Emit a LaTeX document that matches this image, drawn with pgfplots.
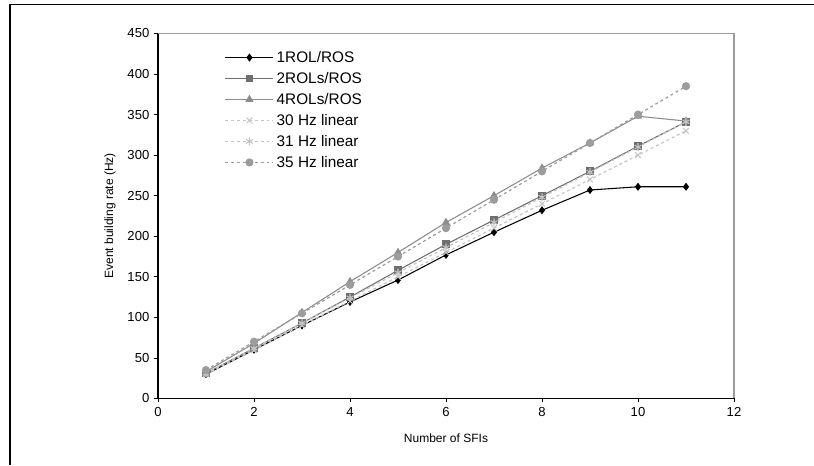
\documentclass[border=0pt]{standalone}
\usepackage{pgfplots}
\pgfplotsset{compat=1.18}
\usepackage{fontspec}
\setmainfont{Liberation Sans}
\definecolor{c2}{HTML}{6E6E6E}
\definecolor{c4}{HTML}{8C8C8C}
\definecolor{c30}{HTML}{C4C4C4}
\definecolor{c35}{HTML}{9C9C9C}
\begin{document}
\begin{tikzpicture}[x=1pt,y=1pt]
\path[use as bounding box] (0,0) rectangle (610.5,348.75);
\draw[line width=1.3pt] (7.5,0) -- (7.5,345.4) -- (610.5,345.4);
\begin{axis}[
  at={(118.5pt,49.9pt)}, anchor=south west,
  scale only axis, width=432pt, height=273.75pt,
  xmin=0, xmax=12, ymin=0, ymax=450,
  xtick={0,2,...,12}, ytick={0,50,...,450},
  axis x line*=bottom, axis y line*=left,
  axis line style={black, line width=0.8pt, -},
  tick align=outside, major tick length=3pt,
  tick style={black, line width=0.6pt},
  tick label style={font=\fontsize{9.8}{11}\selectfont},
  /pgf/number format/assume math mode=true,
  xlabel={Number of SFIs}, ylabel={Event building rate (Hz)},
  label style={font=\fontsize{9}{11}\selectfont},
  xlabel style={yshift=-6pt},
  ylabel style={yshift=2pt},
  legend style={at={(rel axis cs:0.1156,0.960)}, anchor=north west, draw=none, fill=none,
    font=\fontsize{11.5}{13}\selectfont, row sep=1.9pt, inner sep=0pt},
  legend cell align=left,
  legend image code/.code={\draw[mark repeat=2,mark phase=2] plot coordinates {(0pt,0pt) (18pt,0pt) (36pt,0pt)};},
  clip=false,
]
\draw[c35, line width=0.8pt] (rel axis cs:0,1) -- (rel axis cs:1,1) -- (rel axis cs:1,0);
\addplot[black, line width=0.8pt, mark=diamond*, mark size=2.4pt, mark options={solid, fill=black}] coordinates {
(1,30) (2,60) (3,90) (4,119) (5,146) (6,177) (7,205) (8,232) (9,257) (10,261) (11,261)};
\addlegendentry{1ROL/ROS}
\addplot[c2, line width=0.8pt, mark=square*, mark size=2.5pt, mark options={solid, fill=c2}] coordinates {
(1,31) (2,62) (3,93) (4,125) (5,158) (6,190) (7,220) (8,250) (9,280) (10,311) (11,341)};
\addlegendentry{2ROLs/ROS}
\addplot[c4, line width=0.8pt, mark=triangle*, mark size=2.8pt, mark options={solid, fill=c4}] coordinates {
(1,33) (2,68) (3,106) (4,144) (5,180) (6,217) (7,250) (8,284) (9,315) (10,348) (11,342)};
\addlegendentry{4ROLs/ROS}
\addplot[c30, line width=0.9pt, dash pattern=on 2.2pt off 2.2pt, mark=x, mark size=3pt, mark options={solid, line width=0.8pt}] coordinates {
(1,30) (2,60) (3,90) (4,120) (5,150) (6,180) (7,210) (8,240) (9,270) (10,300) (11,330)};
\addlegendentry{30 Hz linear}
\addplot[c30, line width=0.9pt, dash pattern=on 2.2pt off 2.2pt, mark=asterisk, mark size=3pt, mark options={solid, line width=0.8pt}] coordinates {
(1,31) (2,62) (3,93) (4,124) (5,155) (6,186) (7,217) (8,248) (9,279) (10,310) (11,341)};
\addlegendentry{31 Hz linear}
\addplot[c35, line width=0.9pt, dash pattern=on 2.2pt off 2.2pt, mark=*, mark size=2.6pt, mark options={solid, fill=c35, draw=c35}] coordinates {
(1,35) (2,70) (3,105) (4,140) (5,175) (6,210) (7,245) (8,280) (9,315) (10,350) (11,385)};
\addlegendentry{35 Hz linear}
\end{axis}
\end{tikzpicture}
\end{document}
